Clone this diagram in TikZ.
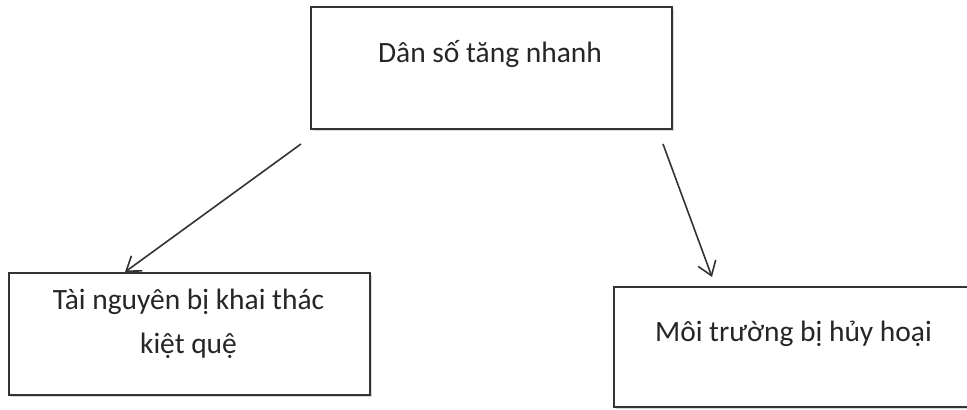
\documentclass[tikz,border=0pt]{standalone}
\usepackage{fontspec}
\setmainfont{Carlito}
\usetikzlibrary{arrows.meta,shadows}
\begin{document}
\begin{tikzpicture}[x=0.75pt,y=-0.75pt,
	box/.style={draw=black!80, line width=1.5pt, fill=white, shape=rectangle, inner sep=0, drop shadow={shadow xshift=1.5pt, shadow yshift=-1.5pt, opacity=0.3}},
	txt/.style={anchor=base, text=black!85, font=\fontsize{22.1}{32.3}\selectfont, align=center, inner sep=0},
	arr/.style={draw=black!80, line width=1.2pt, -{Straight Barb[length=10pt,width=14pt]}}]
	\useasboundingbox (0,0) rectangle (967,410);
	% boxes
	\node[box, minimum width=270.75pt, minimum height=91.5pt] (pop) at (491.5,68) {};
	\node[box, minimum width=270.75pt, minimum height=91.5pt] (res) at (189.5,334) {};
	\node[box, minimum width=278.25pt, minimum height=90pt] (env) at (799.5,347) {};
	% texts (base = last line)
	\node[txt] (popText) at (490,63) {Dân số tăng nhanh};
	\node[txt] (resText) at (188.5,353) {Tài nguyên bị khai thác\\kiệt quệ};
	\node[txt] (envText) at (793.5,341) {Môi trường bị hủy hoại};
	% arrows
	\draw[arr] ([shift={(-9,14)}]pop.south west) -- ([shift={(117,0)}]res.north west);
	\draw[arr] ([shift={(-10,14)}]pop.south east) -- ([shift={(99,-9)}]env.north west);
\end{tikzpicture}
\end{document}
